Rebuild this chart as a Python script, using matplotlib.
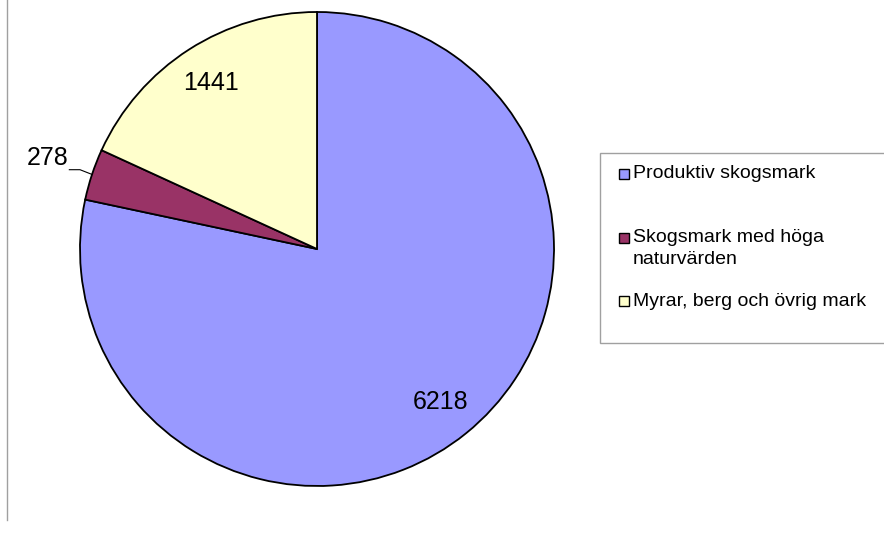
import numpy as np
import matplotlib
matplotlib.use("agg")
import matplotlib.pyplot as plt
from matplotlib.patches import Rectangle
from matplotlib.lines import Line2D

labels = ["Produktiv skogsmark", "Skogsmark med höga\nnaturvärden", "Myrar, berg och övrig mark"]
values = [6218, 278, 1441]
colors = ["#9999FF", "#993366", "#FFFFCC"]

plt.rcParams["font.family"] = ["Liberation Sans", "DejaVu Sans"]

W, H = 884, 541
fig = plt.figure(figsize=(W / 100, H / 100), dpi=100)
fig.patch.set_facecolor("white")

# pie axes: centre (317, 249) px, radius 237 px
cx, cy, r = 317, 249, 237
ax = fig.add_axes([(cx - r) / W, (H - cy - r) / H, 2 * r / W, 2 * r / H])
wedges, _ = ax.pie(values, colors=colors, startangle=90, counterclock=False,
                   wedgeprops=dict(edgecolor="black", linewidth=1.3))
ax.set_xlim(-1, 1)
ax.set_ylim(-1, 1)
ax.set_aspect("equal")
ax.axis("off")

# data labels
for i, w in enumerate(wedges):
    mid = np.deg2rad((w.theta1 + w.theta2) / 2)
    if values[i] < 500:
        ex, ey = np.cos(mid), np.sin(mid)
        ax.add_line(Line2D([ex, -1.0, -1.045], [ey, ey + 0.02, ey + 0.02],
                           color="black", lw=0.8, clip_on=False))
        ax.text(-1.05, ey + 0.068, str(values[i]), ha="right", va="center",
                fontsize=18, clip_on=False)
    else:
        d = 0.83
        ax.text(d * np.cos(mid), d * np.sin(mid), str(values[i]),
                ha="center", va="center", fontsize=18)

# left frame line
fig.add_artist(Line2D([7.5 / W, 7.5 / W], [1, (H - 520) / H],
                      transform=fig.transFigure, color="#A0A0A0", lw=1))

# legend box
fig.add_artist(Rectangle((600 / W, (H - 343) / H), (W - 600 + 5) / W, 190 / H,
                         transform=fig.transFigure, facecolor="white",
                         edgecolor="#A0A0A0", lw=1))
legend_y = [174, 238, 301]
for lab, col, y in zip(labels, colors, legend_y):
    fig.add_artist(Rectangle((619 / W, (H - y - 5) / H), 10 / W, 10 / H,
                             transform=fig.transFigure, facecolor=col,
                             edgecolor="black", lw=1))
    fig.text(633 / W, (H - y) / H, lab.split("\n")[0], ha="left", va="center",
             fontsize=14)
    if "\n" in lab:
        fig.text(633 / W, (H - y - 22) / H, lab.split("\n")[1], ha="left",
                 va="center", fontsize=14)

fig.savefig("out.png", dpi=100)
